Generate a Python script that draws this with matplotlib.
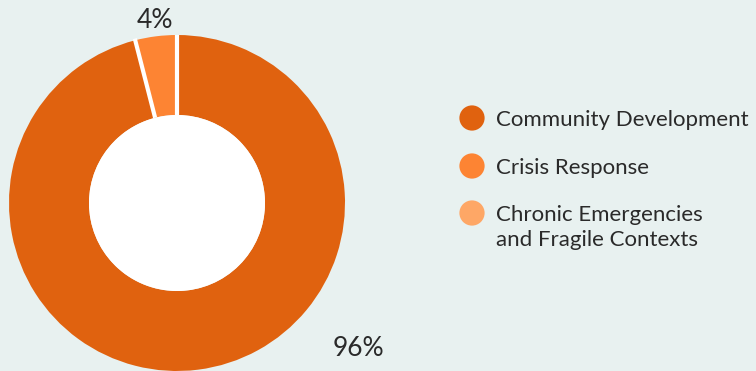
import matplotlib
matplotlib.use("Agg")
import matplotlib.pyplot as plt
import numpy as np
from matplotlib.patches import Circle

categories = ["Community Development", "Crisis Response",
              "Chronic Emergencies\nand Fragile Contexts"]
shares = [96, 4, 0]
colors = ["#e0620f", "#fd8433", "#fea766"]

BG = "#e8f1f0"
TEXT = "#2a2a2a"
W, H = 756, 371

plt.rcParams["font.family"] = ["Lato", "DejaVu Sans"]

fig = plt.figure(figsize=(W / 100, H / 100), dpi=100, facecolor=BG)

# donut: centre (177, 203) px from top, outer radius 168 px, hole radius 88 px
cx, cy, r_out, r_in = 177, 203, 168, 88
ax = fig.add_axes([(cx - r_out) / W, (H - cy - r_out) / H, 2 * r_out / W, 2 * r_out / H])
ax.set_facecolor("none")
drawn = [(v, c) for v, c in zip(shares, colors) if v > 0]
vals = [v for v, _ in drawn]
wedges, _ = ax.pie(vals, colors=[c for _, c in drawn], startangle=90,
                   counterclock=False, radius=1.0,
                   wedgeprops=dict(width=1 - r_in / r_out, edgecolor="none",
                                   antialiased=True))
# white hole and white separators between slices
ax.add_patch(Circle((0, 0), r_in / r_out, facecolor="white", edgecolor="none", zorder=3))
bounds = 90 - np.cumsum([0] + vals) / sum(vals) * 360
for a in bounds[:-1]:
    t = np.deg2rad(a)
    ax.plot([r_in / r_out * np.cos(t), 1.01 * np.cos(t)],
            [r_in / r_out * np.sin(t), 1.01 * np.sin(t)],
            color="white", lw=3, solid_capstyle="butt", zorder=4)
ax.set_xlim(-1, 1)
ax.set_ylim(-1, 1)
ax.set_aspect("equal")
ax.axis("off")

# value labels
fig.text(155 / W, 1 - 21 / H, f"{shares[1]}%", ha="center", va="center",
         fontsize=19, color=TEXT)
fig.text(358 / W, 1 - 348 / H, f"{shares[0]}%", ha="center", va="center",
         fontsize=19, color=TEXT)

# legend
lax = fig.add_axes([0, 0, 1, 1])
lax.set_xlim(0, W)
lax.set_ylim(H, 0)
lax.axis("off")
lax.patch.set_alpha(0)
rows_y = [118, 166, 213]
for y, name, c in zip(rows_y, categories, colors):
    lax.scatter([472], [y], s=330, color=c, edgecolors="none")
    for i, line in enumerate(name.split("\n")):
        lax.text(496, y + 25 * i, line, ha="left", va="center_baseline",
                 fontsize=16, color=TEXT)

fig.savefig("out.png", dpi=100, facecolor=BG)
